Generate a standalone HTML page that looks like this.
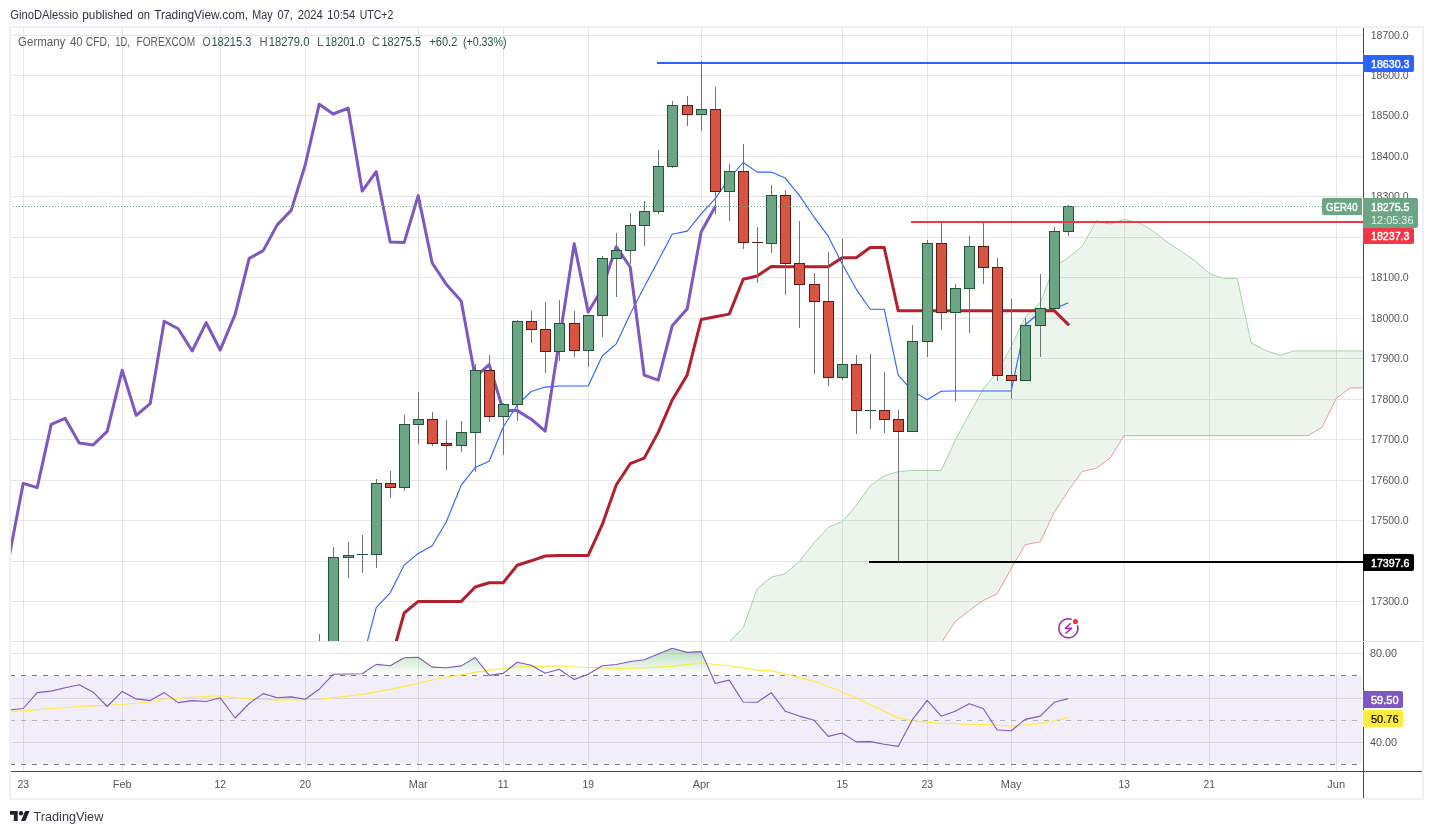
<!DOCTYPE html>
<html lang="en"><head><meta charset="utf-8"><title>Germany 40 CFD chart</title>
<style>html,body{margin:0;padding:0;background:#fff}body{width:1433px;height:834px;overflow:hidden}svg{display:block}text{font-family:"Liberation Sans",sans-serif}</style>
</head><body>
<svg width="1433" height="834" viewBox="0 0 1433 834">
<defs>
<clipPath id="cm"><rect x="11" y="28" width="1352" height="613"/></clipPath>
<clipPath id="cr"><rect x="11" y="642" width="1352" height="129"/></clipPath>
<linearGradient id="gob" gradientUnits="userSpaceOnUse" x1="0" y1="609" x2="0" y2="675.5"><stop offset="0" stop-color="#4caf50" stop-opacity="1"/><stop offset="1" stop-color="#4caf50" stop-opacity="0"/></linearGradient>
</defs>
<rect x="0" y="0" width="1433" height="834" fill="#fff"/>
<rect x="10" y="27" width="1413" height="772" fill="none" stroke="#f0f1f6" stroke-width="2" shape-rendering="crispEdges"/>
<g shape-rendering="crispEdges" fill="#e6e6e6">
<rect x="11" y="35" width="1352" height="1"/>
<rect x="11" y="75" width="1352" height="1"/>
<rect x="11" y="115" width="1352" height="1"/>
<rect x="11" y="156" width="1352" height="1"/>
<rect x="11" y="196" width="1352" height="1"/>
<rect x="11" y="237" width="1352" height="1"/>
<rect x="11" y="277" width="1352" height="1"/>
<rect x="11" y="318" width="1352" height="1"/>
<rect x="11" y="358" width="1352" height="1"/>
<rect x="11" y="399" width="1352" height="1"/>
<rect x="11" y="439" width="1352" height="1"/>
<rect x="11" y="480" width="1352" height="1"/>
<rect x="11" y="520" width="1352" height="1"/>
<rect x="11" y="561" width="1352" height="1"/>
<rect x="11" y="601" width="1352" height="1"/>
<rect x="11" y="653" width="1352" height="1"/>
<rect x="11" y="698" width="1352" height="1"/>
<rect x="11" y="742" width="1352" height="1"/>
<rect x="23" y="28" width="1" height="743"/>
<rect x="122" y="28" width="1" height="743"/>
<rect x="220" y="28" width="1" height="743"/>
<rect x="305" y="28" width="1" height="743"/>
<rect x="418" y="28" width="1" height="743"/>
<rect x="503" y="28" width="1" height="743"/>
<rect x="588" y="28" width="1" height="743"/>
<rect x="701" y="28" width="1" height="743"/>
<rect x="842" y="28" width="1" height="743"/>
<rect x="927" y="28" width="1" height="743"/>
<rect x="1011" y="28" width="1" height="743"/>
<rect x="1124" y="28" width="1" height="743"/>
<rect x="1209" y="28" width="1" height="743"/>
<rect x="1336" y="28" width="1" height="743"/>
</g>
<g clip-path="url(#cm)">
<polygon points="715.2,656.0 729.2,641.7 743.2,627.8 757.2,588.8 771.2,577.2 785.2,573.7 799.2,561.6 814.2,542.7 828.2,527.4 842.2,521.7 856.2,505.5 870.2,485.7 884.2,475.9 898.2,471.6 912.2,470.5 927.2,470.5 941.2,470.5 955.2,440.4 969.2,414.4 983.2,388.9 997.2,372.5 1011.2,346.6 1025.2,317.1 1040.2,303.0 1054.2,266.7 1068.2,257.8 1082.2,246.4 1096.2,220.8 1110.2,224.1 1124.2,219.3 1138.2,222.4 1153.2,230.9 1167.2,242.0 1181.2,251.4 1195.2,260.8 1209.2,273.4 1223.2,278.4 1237.2,278.4 1251.2,342.9 1266.2,350.8 1280.2,355.2 1294.2,350.9 1308.2,350.9 1322.2,350.9 1336.2,350.9 1350.2,350.9 1364.2,350.9 1379.2,317.9 1393.2,311.4 1393.2,387.9 1379.2,387.9 1364.2,387.9 1350.2,387.9 1336.2,398.5 1322.2,427.0 1308.2,435.6 1294.2,435.6 1280.2,435.6 1266.2,435.6 1251.2,435.6 1237.2,435.6 1223.2,435.6 1209.2,435.6 1195.2,435.6 1181.2,435.6 1167.2,435.6 1153.2,435.6 1138.2,435.6 1124.2,435.7 1110.2,458.0 1096.2,468.3 1082.2,471.5 1068.2,490.8 1054.2,512.2 1040.2,541.9 1025.2,544.7 1011.2,568.6 997.2,593.9 983.2,600.5 969.2,610.7 955.2,621.5 941.2,643.0 927.2,665.0 912.2,700.0 898.2,700.0 884.2,700.0 870.2,700.0 856.2,700.0 842.2,700.0 828.2,700.0 814.2,700.0 799.2,700.0 785.2,700.0 771.2,700.0 757.2,700.0 743.2,700.0 729.2,700.0 715.2,700.0" fill="#43a047" fill-opacity="0.1"/>
<polyline points="715.2,656.0 729.2,641.7 743.2,627.8 757.2,588.8 771.2,577.2 785.2,573.7 799.2,561.6 814.2,542.7 828.2,527.4 842.2,521.7 856.2,505.5 870.2,485.7 884.2,475.9 898.2,471.6 912.2,470.5 927.2,470.5 941.2,470.5 955.2,440.4 969.2,414.4 983.2,388.9 997.2,372.5 1011.2,346.6 1025.2,317.1 1040.2,303.0 1054.2,266.7 1068.2,257.8 1082.2,246.4 1096.2,220.8 1110.2,224.1 1124.2,219.3 1138.2,222.4 1153.2,230.9 1167.2,242.0 1181.2,251.4 1195.2,260.8 1209.2,273.4 1223.2,278.4 1237.2,278.4 1251.2,342.9 1266.2,350.8 1280.2,355.2 1294.2,350.9 1308.2,350.9 1322.2,350.9 1336.2,350.9 1350.2,350.9 1364.2,350.9 1379.2,317.9 1393.2,311.4" fill="none" stroke="#a5d6a7" stroke-width="1"/>
<polyline points="927.2,665.0 941.2,643.0 955.2,621.5 969.2,610.7 983.2,600.5 997.2,593.9 1011.2,568.6 1025.2,544.7 1040.2,541.9 1054.2,512.2 1068.2,490.8 1082.2,471.5 1096.2,468.3 1110.2,458.0 1124.2,435.7 1138.2,435.6 1153.2,435.6 1167.2,435.6 1181.2,435.6 1195.2,435.6 1209.2,435.6 1223.2,435.6 1237.2,435.6 1251.2,435.6 1266.2,435.6 1280.2,435.6 1294.2,435.6 1308.2,435.6 1322.2,427.0 1336.2,398.5 1350.2,387.9 1364.2,387.9 1379.2,387.9 1393.2,387.9" fill="none" stroke="#ef9a9a" stroke-width="1"/>
<polyline points="362.2,661.0 376.2,607.6 390.2,592.8 404.2,565.1 418.2,553.4 432.2,545.7 446.2,522.0 461.2,485.2 475.2,467.6 489.2,461.2 503.2,427.0 517.2,405.2 531.2,391.5 545.2,387.1 559.2,386.0 574.2,386.0 588.2,386.0 602.2,356.0 616.2,343.9 630.2,314.0 644.2,286.9 658.2,260.8 672.2,234.2 687.2,231.1 701.2,213.9 715.2,198.7 729.2,178.6 743.2,162.5 757.2,172.1 771.2,172.1 785.2,178.1 799.2,195.1 814.2,217.3 828.2,236.2 842.2,263.9 856.2,289.1 870.2,309.2 884.2,309.2 898.2,375.1 912.2,390.9 927.2,399.8 941.2,391.2 955.2,391.0 969.2,391.0 983.2,391.0 997.2,391.0 1011.2,391.0 1025.2,325.0 1040.2,312.0 1054.2,309.0 1068.2,302.8" fill="none" stroke="#2962ff" stroke-width="1.1" stroke-linejoin="round"/>
<polyline points="376.2,675.8 390.2,662.8 404.2,613.0 418.2,601.4 432.2,601.4 446.2,601.4 461.2,601.4 475.2,587.0 489.2,582.7 503.2,582.7 517.2,565.2 531.2,560.8 545.2,556.0 559.2,555.4 574.2,555.4 588.2,555.4 602.2,524.7 616.2,485.0 630.2,463.7 644.2,458.1 658.2,432.4 672.2,400.0 687.2,374.9 701.2,319.5 715.2,316.8 729.2,314.1 743.2,279.2 757.2,276.0 771.2,266.5 785.2,266.7 799.2,266.7 814.2,266.7 828.2,266.7 842.2,257.7 856.2,257.7 870.2,247.5 884.2,247.5 898.2,310.7 912.2,310.7 927.2,310.7 941.2,310.7 955.2,310.7 969.2,310.7 983.2,310.7 997.2,310.7 1011.2,310.7 1025.2,310.7 1040.2,310.7 1054.2,310.7 1068.2,324.3" fill="none" stroke="#b21f2d" stroke-width="3" stroke-linejoin="round" stroke-linecap="round"/>
<polyline points="9.2,556.6 23.2,483.4 37.2,487.6 51.2,424.4 65.2,418.4 79.2,443.1 93.2,444.9 107.2,431.4 122.2,370.2 136.2,415.4 150.2,403.7 164.2,321.2 178.2,328.7 192.2,351.0 206.2,322.7 220.2,350.0 235.2,314.2 249.2,258.4 263.2,250.6 277.2,224.9 291.2,210.4 305.2,165.0 319.2,104.2 333.2,114.0 348.2,108.2 362.2,191.1 376.2,171.6 390.2,242.0 404.2,242.4 418.2,195.6 432.2,263.0 446.2,284.2 461.2,301.1 475.2,377.2 489.2,364.6 503.2,410.3 517.2,410.6 531.2,419.2 545.2,431.1 559.2,341.6 574.2,243.8 588.2,312.1 602.2,288.7 616.2,246.7 630.2,267.0 644.2,375.1 658.2,380.1 672.2,325.8 687.2,308.8 701.2,231.8 715.2,206.8" fill="none" stroke="#7e57c2" stroke-width="3" stroke-linejoin="round" stroke-linecap="round"/>
<g shape-rendering="crispEdges">
<rect x="319" y="634" width="1" height="16" fill="#737375"/>
<rect x="319" y="700" width="1" height="20" fill="#737375"/>
<rect x="314" y="650" width="11" height="50" fill="#225437"/>
<rect x="315" y="651" width="9" height="48" fill="#6ba583"/>
<rect x="333" y="547" width="1" height="10" fill="#737375"/>
<rect x="333" y="700" width="1" height="20" fill="#737375"/>
<rect x="328" y="557" width="11" height="143" fill="#225437"/>
<rect x="329" y="558" width="9" height="141" fill="#6ba583"/>
<rect x="348" y="542" width="1" height="13" fill="#737375"/>
<rect x="348" y="558" width="1" height="20" fill="#737375"/>
<rect x="343" y="555" width="11" height="3" fill="#225437"/>
<rect x="344" y="556" width="9" height="1" fill="#6ba583"/>
<rect x="362" y="535" width="1" height="19" fill="#737375"/>
<rect x="362" y="555" width="1" height="18" fill="#737375"/>
<rect x="357" y="554" width="11" height="1" fill="#225437"/>
<rect x="376" y="479" width="1" height="4" fill="#737375"/>
<rect x="376" y="555" width="1" height="13" fill="#737375"/>
<rect x="371" y="483" width="11" height="72" fill="#225437"/>
<rect x="372" y="484" width="9" height="70" fill="#6ba583"/>
<rect x="390" y="471" width="1" height="12" fill="#737375"/>
<rect x="390" y="488" width="1" height="10" fill="#737375"/>
<rect x="385" y="483" width="11" height="5" fill="#5b1a13"/>
<rect x="386" y="484" width="9" height="3" fill="#d75442"/>
<rect x="404" y="415" width="1" height="9" fill="#737375"/>
<rect x="404" y="488" width="1" height="3" fill="#737375"/>
<rect x="399" y="424" width="11" height="64" fill="#225437"/>
<rect x="400" y="425" width="9" height="62" fill="#6ba583"/>
<rect x="418" y="392" width="1" height="27" fill="#737375"/>
<rect x="418" y="425" width="1" height="19" fill="#737375"/>
<rect x="413" y="419" width="11" height="6" fill="#225437"/>
<rect x="414" y="420" width="9" height="4" fill="#6ba583"/>
<rect x="432" y="412" width="1" height="7" fill="#737375"/>
<rect x="432" y="444" width="1" height="2" fill="#737375"/>
<rect x="427" y="419" width="11" height="25" fill="#5b1a13"/>
<rect x="428" y="420" width="9" height="23" fill="#d75442"/>
<rect x="446" y="420" width="1" height="23" fill="#737375"/>
<rect x="446" y="446" width="1" height="24" fill="#737375"/>
<rect x="441" y="443" width="11" height="3" fill="#5b1a13"/>
<rect x="442" y="444" width="9" height="1" fill="#d75442"/>
<rect x="461" y="421" width="1" height="11" fill="#737375"/>
<rect x="461" y="446" width="1" height="6" fill="#737375"/>
<rect x="456" y="432" width="11" height="14" fill="#225437"/>
<rect x="457" y="433" width="9" height="12" fill="#6ba583"/>
<rect x="475" y="364" width="1" height="6" fill="#737375"/>
<rect x="475" y="433" width="1" height="39" fill="#737375"/>
<rect x="470" y="370" width="11" height="63" fill="#225437"/>
<rect x="471" y="371" width="9" height="61" fill="#6ba583"/>
<rect x="489" y="355" width="1" height="15" fill="#737375"/>
<rect x="489" y="417" width="1" height="5" fill="#737375"/>
<rect x="484" y="370" width="11" height="47" fill="#5b1a13"/>
<rect x="485" y="371" width="9" height="45" fill="#d75442"/>
<rect x="503" y="403" width="1" height="1" fill="#737375"/>
<rect x="503" y="417" width="1" height="38" fill="#737375"/>
<rect x="498" y="404" width="11" height="13" fill="#225437"/>
<rect x="499" y="405" width="9" height="11" fill="#6ba583"/>
<rect x="517" y="320" width="1" height="1" fill="#737375"/>
<rect x="517" y="405" width="1" height="16" fill="#737375"/>
<rect x="512" y="321" width="11" height="84" fill="#225437"/>
<rect x="513" y="322" width="9" height="82" fill="#6ba583"/>
<rect x="531" y="311" width="1" height="10" fill="#737375"/>
<rect x="531" y="330" width="1" height="13" fill="#737375"/>
<rect x="526" y="321" width="11" height="9" fill="#5b1a13"/>
<rect x="527" y="322" width="9" height="7" fill="#d75442"/>
<rect x="545" y="302" width="1" height="27" fill="#737375"/>
<rect x="545" y="352" width="1" height="21" fill="#737375"/>
<rect x="540" y="329" width="11" height="23" fill="#5b1a13"/>
<rect x="541" y="330" width="9" height="21" fill="#d75442"/>
<rect x="559" y="300" width="1" height="23" fill="#737375"/>
<rect x="559" y="352" width="1" height="9" fill="#737375"/>
<rect x="554" y="323" width="11" height="29" fill="#225437"/>
<rect x="555" y="324" width="9" height="27" fill="#6ba583"/>
<rect x="574" y="311" width="1" height="12" fill="#737375"/>
<rect x="574" y="351" width="1" height="6" fill="#737375"/>
<rect x="569" y="323" width="11" height="28" fill="#5b1a13"/>
<rect x="570" y="324" width="9" height="26" fill="#d75442"/>
<rect x="588" y="351" width="1" height="16" fill="#737375"/>
<rect x="583" y="315" width="11" height="36" fill="#225437"/>
<rect x="584" y="316" width="9" height="34" fill="#6ba583"/>
<rect x="602" y="256" width="1" height="2" fill="#737375"/>
<rect x="602" y="316" width="1" height="21" fill="#737375"/>
<rect x="597" y="258" width="11" height="58" fill="#225437"/>
<rect x="598" y="259" width="9" height="56" fill="#6ba583"/>
<rect x="616" y="233" width="1" height="17" fill="#737375"/>
<rect x="616" y="259" width="1" height="38" fill="#737375"/>
<rect x="611" y="250" width="11" height="9" fill="#225437"/>
<rect x="612" y="251" width="9" height="7" fill="#6ba583"/>
<rect x="630" y="213" width="1" height="12" fill="#737375"/>
<rect x="630" y="251" width="1" height="13" fill="#737375"/>
<rect x="625" y="225" width="11" height="26" fill="#225437"/>
<rect x="626" y="226" width="9" height="24" fill="#6ba583"/>
<rect x="644" y="201" width="1" height="10" fill="#737375"/>
<rect x="644" y="226" width="1" height="20" fill="#737375"/>
<rect x="639" y="211" width="11" height="15" fill="#225437"/>
<rect x="640" y="212" width="9" height="13" fill="#6ba583"/>
<rect x="658" y="150" width="1" height="16" fill="#737375"/>
<rect x="658" y="212" width="1" height="2" fill="#737375"/>
<rect x="653" y="166" width="11" height="46" fill="#225437"/>
<rect x="654" y="167" width="9" height="44" fill="#6ba583"/>
<rect x="672" y="101" width="1" height="4" fill="#737375"/>
<rect x="672" y="167" width="1" height="1" fill="#737375"/>
<rect x="667" y="105" width="11" height="62" fill="#225437"/>
<rect x="668" y="106" width="9" height="60" fill="#6ba583"/>
<rect x="687" y="96" width="1" height="9" fill="#737375"/>
<rect x="687" y="115" width="1" height="11" fill="#737375"/>
<rect x="682" y="105" width="11" height="10" fill="#5b1a13"/>
<rect x="683" y="106" width="9" height="8" fill="#d75442"/>
<rect x="701" y="61" width="1" height="48" fill="#737375"/>
<rect x="701" y="115" width="1" height="16" fill="#737375"/>
<rect x="696" y="109" width="11" height="6" fill="#225437"/>
<rect x="697" y="110" width="9" height="4" fill="#6ba583"/>
<rect x="715" y="87" width="1" height="22" fill="#737375"/>
<rect x="715" y="192" width="1" height="22" fill="#737375"/>
<rect x="710" y="109" width="11" height="83" fill="#5b1a13"/>
<rect x="711" y="110" width="9" height="81" fill="#d75442"/>
<rect x="729" y="164" width="1" height="7" fill="#737375"/>
<rect x="729" y="192" width="1" height="29" fill="#737375"/>
<rect x="724" y="171" width="11" height="21" fill="#225437"/>
<rect x="725" y="172" width="9" height="19" fill="#6ba583"/>
<rect x="743" y="144" width="1" height="27" fill="#737375"/>
<rect x="743" y="243" width="1" height="6" fill="#737375"/>
<rect x="738" y="171" width="11" height="72" fill="#5b1a13"/>
<rect x="739" y="172" width="9" height="70" fill="#d75442"/>
<rect x="757" y="227" width="1" height="15" fill="#737375"/>
<rect x="757" y="243" width="1" height="40" fill="#737375"/>
<rect x="752" y="242" width="11" height="1" fill="#5b1a13"/>
<rect x="771" y="185" width="1" height="10" fill="#737375"/>
<rect x="771" y="244" width="1" height="9" fill="#737375"/>
<rect x="766" y="195" width="11" height="49" fill="#225437"/>
<rect x="767" y="196" width="9" height="47" fill="#6ba583"/>
<rect x="785" y="190" width="1" height="5" fill="#737375"/>
<rect x="785" y="264" width="1" height="31" fill="#737375"/>
<rect x="780" y="195" width="11" height="69" fill="#5b1a13"/>
<rect x="781" y="196" width="9" height="67" fill="#d75442"/>
<rect x="799" y="221" width="1" height="42" fill="#737375"/>
<rect x="799" y="285" width="1" height="43" fill="#737375"/>
<rect x="794" y="263" width="11" height="22" fill="#5b1a13"/>
<rect x="795" y="264" width="9" height="20" fill="#d75442"/>
<rect x="814" y="273" width="1" height="11" fill="#737375"/>
<rect x="814" y="302" width="1" height="72" fill="#737375"/>
<rect x="809" y="284" width="11" height="18" fill="#5b1a13"/>
<rect x="810" y="285" width="9" height="16" fill="#d75442"/>
<rect x="828" y="252" width="1" height="49" fill="#737375"/>
<rect x="828" y="378" width="1" height="8" fill="#737375"/>
<rect x="823" y="301" width="11" height="77" fill="#5b1a13"/>
<rect x="824" y="302" width="9" height="75" fill="#d75442"/>
<rect x="842" y="239" width="1" height="125" fill="#737375"/>
<rect x="842" y="378" width="1" height="2" fill="#737375"/>
<rect x="837" y="364" width="11" height="14" fill="#225437"/>
<rect x="838" y="365" width="9" height="12" fill="#6ba583"/>
<rect x="856" y="355" width="1" height="9" fill="#737375"/>
<rect x="856" y="411" width="1" height="23" fill="#737375"/>
<rect x="851" y="364" width="11" height="47" fill="#5b1a13"/>
<rect x="852" y="365" width="9" height="45" fill="#d75442"/>
<rect x="870" y="354" width="1" height="56" fill="#737375"/>
<rect x="870" y="411" width="1" height="18" fill="#737375"/>
<rect x="865" y="410" width="11" height="1" fill="#225437"/>
<rect x="884" y="372" width="1" height="38" fill="#737375"/>
<rect x="884" y="420" width="1" height="13" fill="#737375"/>
<rect x="879" y="410" width="11" height="10" fill="#5b1a13"/>
<rect x="880" y="411" width="9" height="8" fill="#d75442"/>
<rect x="898" y="410" width="1" height="9" fill="#737375"/>
<rect x="898" y="432" width="1" height="130" fill="#737375"/>
<rect x="893" y="419" width="11" height="13" fill="#5b1a13"/>
<rect x="894" y="420" width="9" height="11" fill="#d75442"/>
<rect x="912" y="325" width="1" height="16" fill="#737375"/>
<rect x="907" y="341" width="11" height="91" fill="#225437"/>
<rect x="908" y="342" width="9" height="89" fill="#6ba583"/>
<rect x="927" y="240" width="1" height="3" fill="#737375"/>
<rect x="927" y="342" width="1" height="15" fill="#737375"/>
<rect x="922" y="243" width="11" height="99" fill="#225437"/>
<rect x="923" y="244" width="9" height="97" fill="#6ba583"/>
<rect x="941" y="221" width="1" height="22" fill="#737375"/>
<rect x="941" y="313" width="1" height="17" fill="#737375"/>
<rect x="936" y="243" width="11" height="70" fill="#5b1a13"/>
<rect x="937" y="244" width="9" height="68" fill="#d75442"/>
<rect x="955" y="284" width="1" height="4" fill="#737375"/>
<rect x="955" y="313" width="1" height="88" fill="#737375"/>
<rect x="950" y="288" width="11" height="25" fill="#225437"/>
<rect x="951" y="289" width="9" height="23" fill="#6ba583"/>
<rect x="969" y="236" width="1" height="10" fill="#737375"/>
<rect x="969" y="289" width="1" height="44" fill="#737375"/>
<rect x="964" y="246" width="11" height="43" fill="#225437"/>
<rect x="965" y="247" width="9" height="41" fill="#6ba583"/>
<rect x="983" y="221" width="1" height="25" fill="#737375"/>
<rect x="983" y="268" width="1" height="16" fill="#737375"/>
<rect x="978" y="246" width="11" height="22" fill="#5b1a13"/>
<rect x="979" y="247" width="9" height="20" fill="#d75442"/>
<rect x="997" y="258" width="1" height="9" fill="#737375"/>
<rect x="997" y="376" width="1" height="5" fill="#737375"/>
<rect x="992" y="267" width="11" height="109" fill="#5b1a13"/>
<rect x="993" y="268" width="9" height="107" fill="#d75442"/>
<rect x="1011" y="299" width="1" height="76" fill="#737375"/>
<rect x="1011" y="381" width="1" height="18" fill="#737375"/>
<rect x="1006" y="375" width="11" height="6" fill="#5b1a13"/>
<rect x="1007" y="376" width="9" height="4" fill="#d75442"/>
<rect x="1025" y="318" width="1" height="7" fill="#737375"/>
<rect x="1020" y="325" width="11" height="56" fill="#225437"/>
<rect x="1021" y="326" width="9" height="54" fill="#6ba583"/>
<rect x="1040" y="274" width="1" height="34" fill="#737375"/>
<rect x="1040" y="326" width="1" height="31" fill="#737375"/>
<rect x="1035" y="308" width="11" height="18" fill="#225437"/>
<rect x="1036" y="309" width="9" height="16" fill="#6ba583"/>
<rect x="1054" y="227" width="1" height="4" fill="#737375"/>
<rect x="1049" y="231" width="11" height="78" fill="#225437"/>
<rect x="1050" y="232" width="9" height="76" fill="#6ba583"/>
<rect x="1068" y="205" width="1" height="1" fill="#737375"/>
<rect x="1068" y="232" width="1" height="4" fill="#737375"/>
<rect x="1063" y="206" width="11" height="26" fill="#225437"/>
<rect x="1064" y="207" width="9" height="24" fill="#6ba583"/>
</g>
<line x1="10" y1="206.5" x2="1322" y2="206.5" stroke="#6ba583" stroke-width="1" stroke-dasharray="1 2" shape-rendering="crispEdges"/>
<g shape-rendering="crispEdges">
<rect x="657" y="62" width="706" height="2" fill="#2962ff"/>
<rect x="911" y="221" width="452" height="2" fill="#f23645"/>
<rect x="869" y="561" width="494" height="2" fill="#000"/>
</g>
<g transform="translate(1068.4,628.3)"><path d="M9.13,-2.62 A9.5,9.5 0 1 1 2.62,-9.13" fill="none" stroke="#9c27b0" stroke-width="1.5" stroke-linecap="round"/><path d="M2.4,-5.0 L-3.3,0.25 L3.4,-0.05 L-2.9,5.2" fill="none" stroke="#9c27b0" stroke-width="1.5" stroke-linejoin="bevel" stroke-linecap="butt"/><circle cx="7" cy="-6.8" r="2.6" fill="#f23645"/></g>
</g>
<g clip-path="url(#cr)">
<rect x="11" y="676" width="1351" height="87.5" fill="#7e57c2" fill-opacity="0.1"/>
<polygon points="332.1,675.5 333.2,674.3 348.2,674.0 362.2,673.8 376.2,664.4 390.2,665.7 404.2,657.8 418.2,657.3 432.2,667.1 446.2,667.7 461.2,665.9 475.2,657.5 489.2,675.4 503.2,673.4 517.2,662.2 531.2,665.2 545.2,673.3 559.2,669.2 568.3,675.5 568.3,675.5 332.1,675.5" fill="url(#gob)"/>
<polygon points="585.1,675.5 588.2,674.3 602.2,665.7 616.2,664.5 630.2,661.5 644.2,659.8 658.2,654.1 672.2,648.3 687.2,652.4 701.2,651.6 711.7,675.5 711.7,675.5 585.1,675.5" fill="url(#gob)"/>
<line x1="10" y1="675.5" x2="1358" y2="675.5" stroke="#787b86" stroke-width="1" stroke-dasharray="5 6" shape-rendering="crispEdges"/>
<line x1="10" y1="720.5" x2="1358" y2="720.5" stroke="#787b86" stroke-opacity="0.5" stroke-width="1" stroke-dasharray="5 6" shape-rendering="crispEdges"/>
<line x1="10" y1="764.5" x2="1358" y2="764.5" stroke="#787b86" stroke-width="1" stroke-dasharray="5 6" shape-rendering="crispEdges"/>
<polyline points="9.2,711.3 23.2,710.9 37.2,709.7 51.2,708.5 65.2,707.8 79.2,706.5 93.2,705.9 107.2,705.3 122.2,704.5 136.2,703.3 150.2,702.0 164.2,699.3 178.2,698.3 192.2,697.4 206.2,696.6 220.2,695.8 235.2,697.8 249.2,698.8 263.2,699.5 277.2,700.1 291.2,700.0 305.2,699.8 319.2,699.4 333.2,697.8 348.2,696.1 362.2,694.4 376.2,691.9 390.2,689.4 404.2,686.4 418.2,683.3 432.2,680.0 446.2,677.3 461.2,674.9 475.2,672.1 489.2,670.4 503.2,668.7 517.2,667.0 531.2,666.2 545.2,666.4 559.2,665.9 574.2,667.0 588.2,667.5 602.2,667.9 616.2,668.4 630.2,668.2 644.2,667.9 658.2,667.0 672.2,666.4 687.2,664.5 701.2,662.9 715.2,664.5 729.2,665.7 743.2,667.9 757.2,670.1 771.2,670.9 785.2,673.8 799.2,677.6 814.2,681.3 828.2,686.4 842.2,691.9 856.2,698.1 870.2,704.8 884.2,711.2 898.2,717.9 912.2,720.8 927.2,722.1 941.2,723.3 955.2,723.8 969.2,724.5 983.2,724.3 997.2,725.3 1011.2,726.3 1025.2,725.0 1040.2,723.6 1054.2,720.8 1068.2,717.7" fill="none" stroke="#ffeb3b" stroke-width="1.1" stroke-linejoin="round"/>
<polyline points="9.2,710.0 23.2,708.5 37.2,692.6 51.2,691.1 65.2,687.7 79.2,684.7 93.2,692.2 107.2,706.5 122.2,691.4 136.2,698.9 150.2,700.6 164.2,692.6 178.2,702.6 192.2,700.6 206.2,701.5 220.2,697.8 235.2,718.0 249.2,703.5 263.2,693.6 277.2,697.8 291.2,696.9 305.2,699.3 319.2,689.2 333.2,674.3 348.2,674.0 362.2,673.8 376.2,664.4 390.2,665.7 404.2,657.8 418.2,657.3 432.2,667.1 446.2,667.7 461.2,665.9 475.2,657.5 489.2,675.4 503.2,673.4 517.2,662.2 531.2,665.2 545.2,673.3 559.2,669.2 574.2,679.6 588.2,674.3 602.2,665.7 616.2,664.5 630.2,661.5 644.2,659.8 658.2,654.1 672.2,648.3 687.2,652.4 701.2,651.6 715.2,683.5 729.2,680.1 743.2,702.0 757.2,702.3 771.2,692.7 785.2,711.2 799.2,716.1 814.2,720.3 828.2,736.4 842.2,733.0 856.2,741.9 870.2,741.6 884.2,744.3 898.2,746.4 912.2,719.9 927.2,700.3 941.2,716.2 955.2,711.2 969.2,703.8 983.2,708.5 997.2,730.0 1011.2,730.8 1025.2,719.4 1040.2,716.1 1054.2,702.3 1068.2,698.6" fill="none" stroke="#7e57c2" stroke-width="1.1" stroke-linejoin="round"/>
</g>
<g shape-rendering="crispEdges">
<rect x="1363" y="28" width="1" height="770" fill="#4a4a4c"/>
<rect x="11" y="771" width="1411" height="1" fill="#4a4a4c"/>
</g>
<rect x="11" y="641" width="1411" height="1" fill="#e0e3eb" shape-rendering="crispEdges"/>
<text x="1370.7" y="38.8" font-size="11" fill="#555" textLength="38" lengthAdjust="spacingAndGlyphs">18700.0</text>
<text x="1370.7" y="78.8" font-size="11" fill="#555" textLength="38" lengthAdjust="spacingAndGlyphs">18600.0</text>
<text x="1370.7" y="118.8" font-size="11" fill="#555" textLength="38" lengthAdjust="spacingAndGlyphs">18500.0</text>
<text x="1370.7" y="159.8" font-size="11" fill="#555" textLength="38" lengthAdjust="spacingAndGlyphs">18400.0</text>
<text x="1370.7" y="199.8" font-size="11" fill="#555" textLength="38" lengthAdjust="spacingAndGlyphs">18300.0</text>
<text x="1370.7" y="240.8" font-size="11" fill="#555" textLength="38" lengthAdjust="spacingAndGlyphs">18200.0</text>
<text x="1370.7" y="280.8" font-size="11" fill="#555" textLength="38" lengthAdjust="spacingAndGlyphs">18100.0</text>
<text x="1370.7" y="321.8" font-size="11" fill="#555" textLength="38" lengthAdjust="spacingAndGlyphs">18000.0</text>
<text x="1370.7" y="361.8" font-size="11" fill="#555" textLength="38" lengthAdjust="spacingAndGlyphs">17900.0</text>
<text x="1370.7" y="402.8" font-size="11" fill="#555" textLength="38" lengthAdjust="spacingAndGlyphs">17800.0</text>
<text x="1370.7" y="442.8" font-size="11" fill="#555" textLength="38" lengthAdjust="spacingAndGlyphs">17700.0</text>
<text x="1370.7" y="483.8" font-size="11" fill="#555" textLength="38" lengthAdjust="spacingAndGlyphs">17600.0</text>
<text x="1370.7" y="523.8" font-size="11" fill="#555" textLength="38" lengthAdjust="spacingAndGlyphs">17500.0</text>
<text x="1370.7" y="564.8" font-size="11" fill="#555" textLength="38" lengthAdjust="spacingAndGlyphs">17400.0</text>
<text x="1370.7" y="604.8" font-size="11" fill="#555" textLength="38" lengthAdjust="spacingAndGlyphs">17300.0</text>
<text x="1370" y="656.8" font-size="11" fill="#555" textLength="27" lengthAdjust="spacingAndGlyphs">80.00</text>
<text x="1370" y="701.8" font-size="11" fill="#555" textLength="27" lengthAdjust="spacingAndGlyphs">60.00</text>
<text x="1370" y="745.8" font-size="11" fill="#555" textLength="27" lengthAdjust="spacingAndGlyphs">40.00</text>
<rect x="1363" y="55" width="51" height="17" rx="2" ry="2" fill="#2962ff"/>
<rect x="1363" y="55" width="3" height="17" fill="#2962ff"/>
<text x="1371" y="67.8" font-size="11" fill="#fff" stroke="#fff" stroke-width="0.45" paint-order="stroke" textLength="38.5" lengthAdjust="spacingAndGlyphs">18630.3</text>
<rect x="1322" y="198" width="40" height="17" rx="2" ry="2" fill="#6ba583"/>
<rect x="1359" y="198" width="3" height="17" fill="#6ba583"/>
<text x="1326" y="210.7" font-size="11" fill="#fff" stroke="#fff" stroke-width="0.45" paint-order="stroke" textLength="31.5" lengthAdjust="spacingAndGlyphs">GER40</text>
<rect x="1363" y="198" width="55" height="30" rx="2" ry="2" fill="#6ba583"/>
<rect x="1363" y="198" width="3" height="30" fill="#6ba583"/>
<text x="1371" y="211.3" font-size="11" fill="#fff" stroke="#fff" stroke-width="0.45" paint-order="stroke" textLength="38.5" lengthAdjust="spacingAndGlyphs">18275.5</text>
<text x="1371" y="224.3" font-size="11" fill="#fff" textLength="42.5" lengthAdjust="spacingAndGlyphs" fill-opacity="0.88">12:05:36</text>
<rect x="1363" y="228" width="51" height="16" rx="2" ry="2" fill="#f23645"/>
<rect x="1363" y="228" width="3" height="16" fill="#f23645"/>
<text x="1371" y="240.3" font-size="11" fill="#fff" stroke="#fff" stroke-width="0.45" paint-order="stroke" textLength="38.5" lengthAdjust="spacingAndGlyphs">18237.3</text>
<rect x="1363" y="554" width="51" height="17" rx="2" ry="2" fill="#000"/>
<rect x="1363" y="554" width="3" height="17" fill="#000"/>
<text x="1371" y="566.8" font-size="11" fill="#fff" stroke="#fff" stroke-width="0.45" paint-order="stroke" textLength="38.5" lengthAdjust="spacingAndGlyphs">17397.6</text>
<rect x="1363" y="691" width="40" height="17" rx="2" ry="2" fill="#7e57c2"/>
<rect x="1363" y="691" width="3" height="17" fill="#7e57c2"/>
<text x="1371" y="703.8" font-size="11" fill="#fff" stroke="#fff" stroke-width="0.45" paint-order="stroke" textLength="27.5" lengthAdjust="spacingAndGlyphs">59.50</text>
<rect x="1363" y="710" width="40" height="17" rx="2" ry="2" fill="#ffeb3b"/>
<rect x="1363" y="710" width="3" height="17" fill="#ffeb3b"/>
<text x="1371" y="722.8" font-size="11" fill="#000" stroke="#000" stroke-width="0.2" paint-order="stroke" textLength="27.5" lengthAdjust="spacingAndGlyphs">50.76</text>
<text x="17.45" y="787.8" font-size="11" fill="#555" textLength="11.5" lengthAdjust="spacingAndGlyphs">23</text>
<text x="122.2" y="787.8" font-size="11" fill="#555" text-anchor="middle">Feb</text>
<text x="214.45" y="787.8" font-size="11" fill="#555" textLength="11.5" lengthAdjust="spacingAndGlyphs">12</text>
<text x="299.45" y="787.8" font-size="11" fill="#555" textLength="11.5" lengthAdjust="spacingAndGlyphs">20</text>
<text x="418.2" y="787.8" font-size="11" fill="#555" text-anchor="middle">Mar</text>
<text x="497.45" y="787.8" font-size="11" fill="#555" textLength="11.5" lengthAdjust="spacingAndGlyphs">11</text>
<text x="582.45" y="787.8" font-size="11" fill="#555" textLength="11.5" lengthAdjust="spacingAndGlyphs">19</text>
<text x="701.2" y="787.8" font-size="11" fill="#555" text-anchor="middle">Apr</text>
<text x="836.45" y="787.8" font-size="11" fill="#555" textLength="11.5" lengthAdjust="spacingAndGlyphs">15</text>
<text x="921.45" y="787.8" font-size="11" fill="#555" textLength="11.5" lengthAdjust="spacingAndGlyphs">23</text>
<text x="1011.2" y="787.8" font-size="11" fill="#555" text-anchor="middle">May</text>
<text x="1118.45" y="787.8" font-size="11" fill="#555" textLength="11.5" lengthAdjust="spacingAndGlyphs">13</text>
<text x="1203.45" y="787.8" font-size="11" fill="#555" textLength="11.5" lengthAdjust="spacingAndGlyphs">21</text>
<text x="1336.2" y="787.8" font-size="11" fill="#555" text-anchor="middle">Jun</text>
<text x="10.2" y="19" font-size="12.5" fill="#2f3241" textLength="68.0" lengthAdjust="spacingAndGlyphs">GinoDAlessio</text>
<text x="82.3" y="19" font-size="12.5" fill="#2f3241" textLength="50.6" lengthAdjust="spacingAndGlyphs">published</text>
<text x="137.5" y="19" font-size="12.5" fill="#2f3241" textLength="12.5" lengthAdjust="spacingAndGlyphs">on</text>
<text x="154.2" y="19" font-size="12.5" fill="#2f3241" textLength="94.0" lengthAdjust="spacingAndGlyphs">TradingView.com,</text>
<text x="252.3" y="19" font-size="12.5" fill="#2f3241" textLength="20.3" lengthAdjust="spacingAndGlyphs">May</text>
<text x="277.5" y="19" font-size="12.5" fill="#2f3241" textLength="15.3" lengthAdjust="spacingAndGlyphs">07,</text>
<text x="297.7" y="19" font-size="12.5" fill="#2f3241" textLength="25.1" lengthAdjust="spacingAndGlyphs">2024</text>
<text x="327.3" y="19" font-size="12.5" fill="#2f3241" textLength="27.9" lengthAdjust="spacingAndGlyphs">10:54</text>
<text x="359.8" y="19" font-size="12.5" fill="#2f3241" textLength="33.5" lengthAdjust="spacingAndGlyphs">UTC+2</text>
<text x="18.1" y="46.3" font-size="12.3" fill="#5a5a5a" textLength="47.2" lengthAdjust="spacingAndGlyphs">Germany</text>
<text x="69.9" y="46.3" font-size="12.3" fill="#5a5a5a" textLength="12.7" lengthAdjust="spacingAndGlyphs">40</text>
<text x="85.7" y="46.3" font-size="12.3" fill="#5a5a5a" textLength="24.1" lengthAdjust="spacingAndGlyphs">CFD,</text>
<text x="115.2" y="46.3" font-size="12.3" fill="#5a5a5a" textLength="14.6" lengthAdjust="spacingAndGlyphs">1D,</text>
<text x="136.5" y="46.3" font-size="12.3" fill="#5a5a5a" textLength="58.6" lengthAdjust="spacingAndGlyphs">FOREXCOM</text>
<text x="202.4" y="46.3" font-size="12.3" fill="#5a5a5a" textLength="8.1" lengthAdjust="spacingAndGlyphs">O</text>
<text x="211.4" y="46.3" font-size="12.3" fill="#225437" textLength="40.0" lengthAdjust="spacingAndGlyphs">18215.3</text>
<text x="259.4" y="46.3" font-size="12.3" fill="#5a5a5a" textLength="8.1" lengthAdjust="spacingAndGlyphs">H</text>
<text x="268.8" y="46.3" font-size="12.3" fill="#225437" textLength="40.6" lengthAdjust="spacingAndGlyphs">18279.0</text>
<text x="316.9" y="46.3" font-size="12.3" fill="#5a5a5a" textLength="6.6" lengthAdjust="spacingAndGlyphs">L</text>
<text x="325.0" y="46.3" font-size="12.3" fill="#225437" textLength="39.6" lengthAdjust="spacingAndGlyphs">18201.0</text>
<text x="372.1" y="46.3" font-size="12.3" fill="#5a5a5a" textLength="7.9" lengthAdjust="spacingAndGlyphs">C</text>
<text x="381.5" y="46.3" font-size="12.3" fill="#225437" textLength="39.6" lengthAdjust="spacingAndGlyphs">18275.5</text>
<text x="429.4" y="46.3" font-size="12.3" fill="#225437" textLength="27.9" lengthAdjust="spacingAndGlyphs">+60.2</text>
<text x="462.9" y="46.3" font-size="12.3" fill="#225437" textLength="43.7" lengthAdjust="spacingAndGlyphs">(+0.33%)</text>
<g transform="translate(10,811) scale(0.55)" fill="#1e222d"><path d="M14 18H7V7H0V0h14v18zM28 18h-8l7.5-18h8L28 18z"/><circle cx="20" cy="4" r="4"/></g>
<text x="33.5" y="821" font-size="12.6" fill="#363a45" textLength="69.8" lengthAdjust="spacingAndGlyphs">TradingView</text>
</svg>
</body></html>
